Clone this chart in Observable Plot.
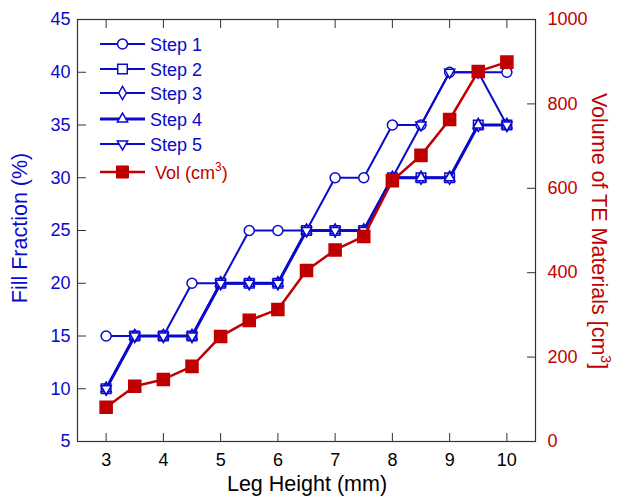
<!DOCTYPE html>
<html><head><meta charset="utf-8">
<script src="https://cdn.jsdelivr.net/npm/d3@7"></script>
<script src="https://cdn.jsdelivr.net/npm/@observablehq/plot@0.6"></script>
<style>
body{margin:0;background:#fff}
svg{font-family:"Liberation Sans",Arial,sans-serif}
</style>
</head><body><div id="chart"></div>
<script>
// ---- data ----
const legHeight = [3, 3.5, 4, 4.5, 5, 5.5, 6, 6.5, 7, 7.5, 8, 8.5, 9, 9.5, 10];
const step1 = [15, 15, 15, 20, 20, 25, 25, 25, 30, 30, 35, 35, 40, 40, 40];
const step2 = [10, 15, 15, 15, 20, 20, 20, 25, 25, 25, 30, 30, 30, 35, 35];
const step3 = [10, 15, 15, 15, 20, 20, 20, 25, 25, 25, 30, 30, 30, 35, 35];
const step4 = [10, 15, 15, 15, 20, 20, 20, 25, 25, 25, 30, 30, 30, 35, 35];
const step5 = [10, 15, 15, 15, 20, 20, 20, 25, 25, 25, 30, 35, 40, 40, 35];
const vol = [81, 131, 147, 178, 249, 287, 313, 405, 454, 486, 618, 678, 763, 877, 899];
const seriesNames = ["Step 1", "Step 2", "Step 3", "Step 4", "Step 5", "Vol (cm3)"];
const xTicks = [3, 4, 5, 6, 7, 8, 9, 10];
const fillTicks = [5, 10, 15, 20, 25, 30, 35, 40, 45];
const volTicks = [0, 200, 400, 600, 800, 1000];
const xTitle = "Leg Height (mm)";
const yTitle = "Fill Fraction (%)";
const y2Title = "Volume of TE Materials [cm";

// ---- styles ----
const BLUE = "#0a0acc", RED = "#c00000", AX = "#333";
const FONT = 18, TFONT = 21.5;
const fillDomain = [5, 45], volDomain = [0, 1000];
const volToFill = v => fillDomain[0] + (v - volDomain[0]) * (fillDomain[1] - fillDomain[0]) / (volDomain[1] - volDomain[0]);

const triDown = {
  draw(context, size) {
    const y = -Math.sqrt(size / (Math.sqrt(3) * 3));
    const s3 = Math.sqrt(3);
    context.moveTo(0, -y * 2);
    context.lineTo(-s3 * y, y);
    context.lineTo(s3 * y, y);
    context.closePath();
  }
};

const stepSeries = [
  {name: seriesNames[0], vals: step1, symbol: "circle", r: 5, sw: 2},
  {name: seriesNames[1], vals: step2, symbol: "square", r: 5.4, sw: 2},
  {name: seriesNames[2], vals: step3, symbol: "diamond", r: 4, sw: 2},
  {name: seriesNames[3], vals: step4, symbol: "triangle", r: 3.8, sw: 3},
  {name: seriesNames[4], vals: step5, symbol: triDown, r: 3.8, sw: 2}
];

const marks = [];
for (const s of stepSeries) {
  const rows = legHeight.map((x, i) => ({x, y: s.vals[i]}));
  marks.push(Plot.line(rows, {x: "x", y: "y", stroke: BLUE, strokeWidth: s.sw}));
  marks.push(Plot.dot(rows, {x: "x", y: "y", symbol: s.symbol, r: s.r, stroke: BLUE, fill: "white", strokeWidth: 1.5}));
}
const volRows = legHeight.map((x, i) => ({x, v: vol[i]}));
marks.push(Plot.line(volRows, {x: "x", y: d => volToFill(d.v), stroke: RED, strokeWidth: 2.5}));
marks.push(Plot.dot(volRows, {x: "x", y: d => volToFill(d.v), symbol: "square", r: 6.8, fill: RED, stroke: RED}));

const chart = Plot.plot({
  width: 618, height: 496,
  marginLeft: 77, marginRight: 83, marginTop: 19, marginBottom: 55,
  style: {fontFamily: '"Liberation Sans", Arial, sans-serif', background: "white"},
  x: {domain: [2.5, 10.5], label: null},
  y: {domain: fillDomain, label: null},
  marks: [
    ...marks,
    Plot.frame({stroke: AX, strokeWidth: 1.2}),
    Plot.axisX({ticks: xTicks, anchor: "bottom", tickSize: -8, tickPadding: 20, fontSize: FONT, fill: "black", stroke: AX, label: null}),
    Plot.axisX({ticks: xTicks, anchor: "top", tickSize: -8, tickFormat: () => "", stroke: AX, label: null}),
    Plot.axisY({ticks: fillTicks, anchor: "left", tickSize: -9, tickPadding: 16, fontSize: FONT, fill: BLUE, stroke: AX, label: null}),
    Plot.axisY({ticks: volTicks.map(volToFill), anchor: "right", tickSize: -9, tickPadding: 21, fontSize: FONT, fill: RED, stroke: AX, label: null,
      tickFormat: d => String(Math.round(volDomain[0] + (d - fillDomain[0]) * (volDomain[1] - volDomain[0]) / (fillDomain[1] - fillDomain[0])))})
  ]
});
document.getElementById("chart").appendChild(chart);

// ---- titles & legend ----
const svg = d3.select(chart);
svg.append("text").attr("x", 307).attr("y", 491).attr("text-anchor", "middle")
  .attr("font-size", TFONT).attr("fill", "black").text(xTitle);
svg.append("text").attr("transform", "translate(27,228) rotate(-90)").attr("text-anchor", "middle")
  .attr("font-size", TFONT).attr("fill", BLUE).text(yTitle);
const t2 = svg.append("text").attr("transform", "translate(592,231) rotate(90)").attr("text-anchor", "middle")
  .attr("font-size", TFONT).attr("fill", RED);
t2.append("tspan").text(y2Title);
t2.append("tspan").attr("dy", -9).attr("font-size", 14).text("3");
t2.append("tspan").attr("dy", 9).text("]");

const legY = [44, 69, 93, 119, 144, 172];
const lg = svg.append("g").attr("text-anchor", "start");
stepSeries.forEach((s, i) => {
  const y = legY[i];
  lg.append("line").attr("x1", 100).attr("x2", 145).attr("y1", y).attr("y2", y).attr("stroke", BLUE).attr("stroke-width", s.sw);
  const sym = typeof s.symbol === "string" ? ({circle: d3.symbolCircle, square: d3.symbolSquare, diamond: d3.symbolDiamond, triangle: d3.symbolTriangle})[s.symbol] : s.symbol;
  lg.append("path").attr("transform", `translate(122.5,${y})`).attr("d", d3.symbol(sym, Math.PI * s.r * s.r)())
    .attr("fill", "white").attr("stroke", BLUE).attr("stroke-width", 1.5);
  lg.append("text").attr("x", 150).attr("y", y + 6.5).attr("text-anchor", "start").attr("font-size", FONT).attr("fill", BLUE).text(s.name);
});
{
  const y = legY[5];
  lg.append("line").attr("x1", 100).attr("x2", 145).attr("y1", y).attr("y2", y).attr("stroke", RED).attr("stroke-width", 2.5);
  lg.append("path").attr("transform", `translate(122.5,${y})`).attr("d", d3.symbol(d3.symbolSquare, Math.PI * 6.8 * 6.8)())
    .attr("fill", RED).attr("stroke", RED);
  const t = lg.append("text").attr("x", 155).attr("y", y + 6.5).attr("text-anchor", "start").attr("font-size", FONT).attr("fill", RED);
  t.append("tspan").text("Vol (cm");
  t.append("tspan").attr("dy", -8).attr("font-size", 12).text("3");
  t.append("tspan").attr("dy", 8).text(")");
}
</script>
</body></html>
